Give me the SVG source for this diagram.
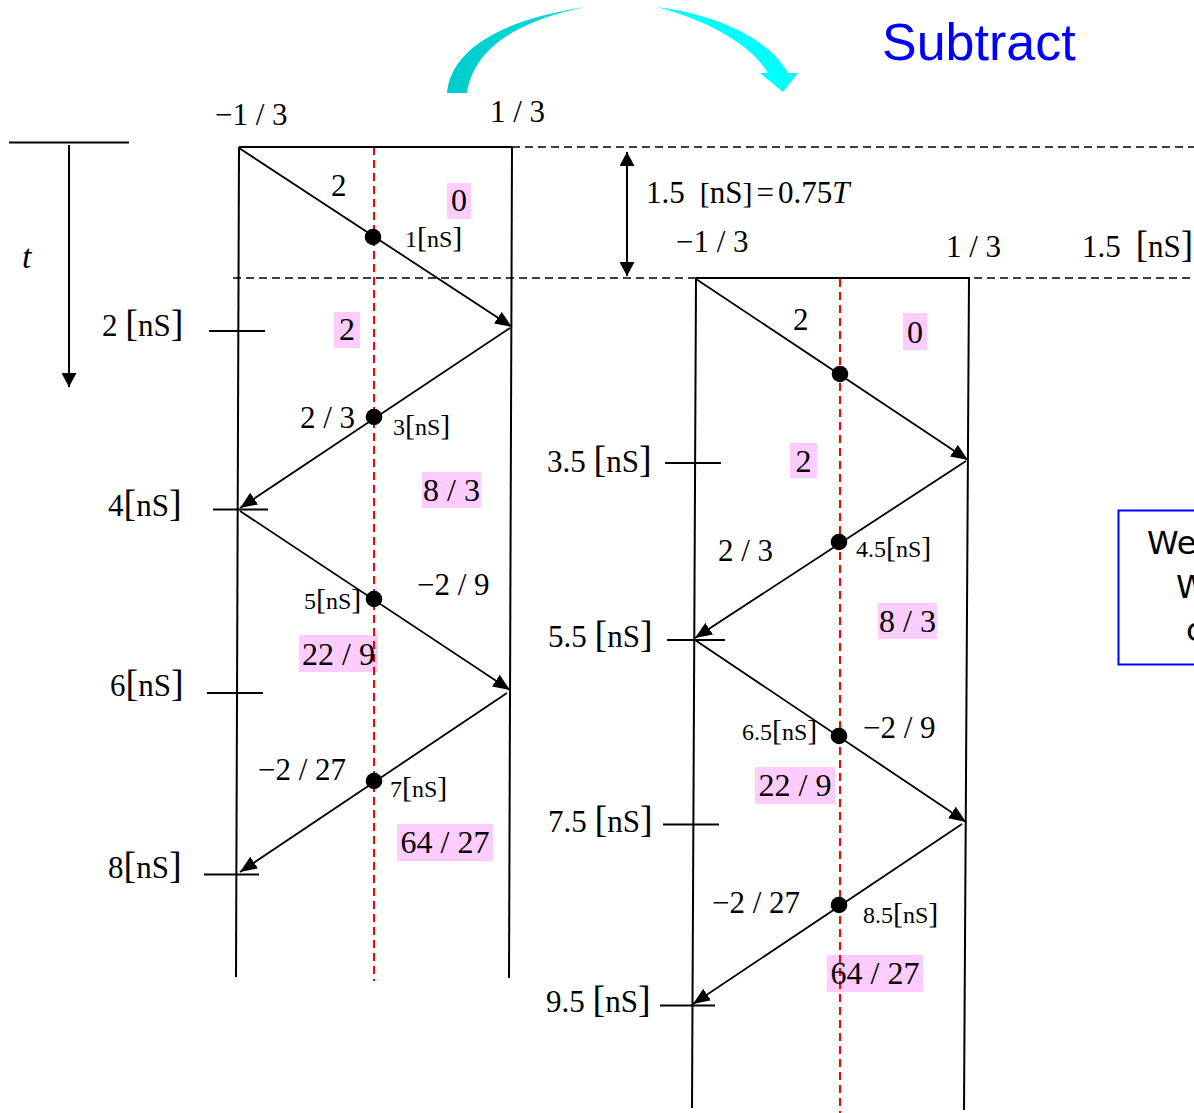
<svg xmlns="http://www.w3.org/2000/svg" width="1194" height="1113" viewBox="0 0 1194 1113">
<style>
  .ln{stroke:#000;stroke-width:2;fill:none}
  .zz{stroke:#000;stroke-width:1.8;fill:none;marker-end:url(#ah)}
  .dash{stroke:#000;stroke-width:1.6;stroke-dasharray:8 5;fill:none}
  .red{stroke:#FF0000;stroke-width:2;stroke-dasharray:8 5;fill:none}
  .pk{fill:#FFCCFF}
  .t{font-family:"Liberation Serif","Times New Roman",serif;fill:#000}
  .big{font-size:31px}
  .fr{font-size:31px}
  .pt{font-size:32px;text-anchor:middle}
  .sm{font-size:24px}
  .bb{font-size:38px}
  .sb{font-size:30px}
  .dot{fill:#000}
</style>
<defs>
  <marker id="ah" viewBox="0 0 17 14" markerWidth="17" markerHeight="14" refX="17" refY="7" orient="auto" markerUnits="userSpaceOnUse">
    <path d="M0,0 L17,7 L0,14 Z" fill="#000"/>
  </marker>
  <marker id="ah2" viewBox="0 0 14 15" markerWidth="14" markerHeight="15" refX="14" refY="7.5" orient="auto-start-reverse" markerUnits="userSpaceOnUse">
    <path d="M0,0 L14,7.5 L0,15 Z" fill="#000"/>
  </marker>
  <linearGradient id="cy" gradientUnits="userSpaceOnUse" x1="447" y1="0" x2="798" y2="0">
    <stop offset="0" stop-color="#00CCCC"/>
    <stop offset="0.4" stop-color="#00DDDD"/>
    <stop offset="0.6" stop-color="#00FFFF"/>
    <stop offset="1" stop-color="#00FFFF"/>
  </linearGradient>
</defs>
<rect width="1194" height="1113" fill="#fff"/>

<!-- pink value boxes -->
<g id="pink-boxes">
  <rect class="pk" x="447" y="183" width="24" height="36"/>
  <rect class="pk" x="334" y="312" width="26" height="36"/>
  <rect class="pk" x="422" y="472" width="59" height="36"/>
  <rect class="pk" x="299" y="635" width="79" height="37"/>
  <rect class="pk" x="397" y="824" width="96" height="37"/>
  <rect class="pk" x="903" y="313" width="24" height="37"/>
  <rect class="pk" x="790" y="443" width="27" height="35"/>
  <rect class="pk" x="878" y="603" width="59" height="36"/>
  <rect class="pk" x="755" y="767" width="80" height="37"/>
  <rect class="pk" x="827" y="955" width="96" height="37"/>
</g>

<!-- guide lines -->
<g id="guides">
  <line class="dash" x1="239" y1="147" x2="1194" y2="147"/>
  <line class="dash" x1="233" y1="278" x2="1194" y2="278"/>
  <line class="red" x1="374" y1="147" x2="374" y2="981"/>
  <line class="red" x1="840" y1="279" x2="840" y2="1113"/>
</g>

<!-- left line diagram -->
<g id="left-line">
  <line class="ln" x1="239" y1="147" x2="512" y2="147"/>
  <line class="ln" x1="239" y1="147" x2="236" y2="977"/>
  <line class="ln" x1="512" y1="147" x2="509" y2="978"/>
  <line class="ln" x1="209" y1="331" x2="265" y2="331"/>
  <line class="ln" x1="213" y1="509.5" x2="268" y2="509.5"/>
  <line class="ln" x1="207" y1="693" x2="263" y2="693"/>
  <line class="ln" x1="204" y1="874.5" x2="259" y2="874.5"/>
</g>

<!-- right line diagram -->
<g id="right-line">
  <line class="ln" x1="696" y1="278" x2="970" y2="278"/>
  <line class="ln" x1="696" y1="278" x2="692" y2="1108"/>
  <line class="ln" x1="969" y1="278" x2="964" y2="1110"/>
  <line class="ln" x1="665" y1="463" x2="721" y2="463"/>
  <line class="ln" x1="667" y1="640" x2="725" y2="640"/>
  <line class="ln" x1="663" y1="824.5" x2="719" y2="824.5"/>
  <line class="ln" x1="660" y1="1005.5" x2="715" y2="1005.5"/>
</g>

<!-- time axis -->
<g id="time-axis">
  <line class="ln" x1="9" y1="142.5" x2="129" y2="142.5"/>
  <line class="ln" x1="69" y1="145" x2="69" y2="387" marker-end="url(#ah2)"/>
  <text class="t" x="22" y="268" font-size="34" font-style="italic">t</text>
</g>

<!-- connectors -->
<g id="connectors">
  <line class="zz" x1="239" y1="148" x2="512" y2="327"/>
  <line class="zz" x1="510" y1="328" x2="240" y2="508"/>
  <line class="zz" x1="240" y1="511" x2="510" y2="690"/>
  <line class="zz" x1="507" y1="693" x2="240" y2="872"/>
  <line class="zz" x1="696" y1="279" x2="968" y2="460"/>
  <line class="zz" x1="966" y1="461" x2="695" y2="638"/>
  <line class="zz" x1="695" y1="640" x2="966" y2="822"/>
  <line class="zz" x1="962" y1="824" x2="693" y2="1004"/>
  <line class="ln" x1="627" y1="152" x2="627" y2="276" marker-start="url(#ah2)" marker-end="url(#ah2)"/>
  <path id="subtract-arrow-left" d="M447,93 C451,50 500,20 585,7 C522,20 474,46 467,93 Z" fill="url(#cy)"/>
  <path id="subtract-arrow-right" d="M657,7 C720,15 770,40 788,73 L798,73 L783,92 L760,73 L768,73 C752,46 712,22 657,7 Z" fill="url(#cy)"/>
</g>

<!-- crossing dots -->
<g id="dots">
  <circle class="dot" cx="373" cy="237" r="8.3"/>
  <circle class="dot" cx="374" cy="417" r="8.3"/>
  <circle class="dot" cx="374" cy="599" r="8.3"/>
  <circle class="dot" cx="374" cy="781" r="8.3"/>
  <circle class="dot" cx="840" cy="374" r="8.3"/>
  <circle class="dot" cx="839" cy="542" r="8.3"/>
  <circle class="dot" cx="839" cy="736" r="8.3"/>
  <circle class="dot" cx="839" cy="905" r="8.3"/>
</g>

<!-- left labels -->
<g id="left-labels" class="t">
  <text class="fr" x="215" y="125">−1 / 3</text>
  <text class="fr" x="490" y="122">1 / 3</text>
  <text class="fr" x="331" y="196">2</text>
  <text class="fr" x="300" y="428">2 / 3</text>
  <text class="fr" x="417" y="595">−2 / 9</text>
  <text class="fr" x="258" y="780">−2 / 27</text>
  <text class="pt" x="459" y="211">0</text>
  <text class="pt" x="347" y="340">2</text>
  <text class="pt" x="451.5" y="501">8 / 3</text>
  <text class="pt" x="338.5" y="665">22 / 9</text>
  <text class="pt" x="445" y="853">64 / 27</text>
  <text class="sm" x="405" y="247">1<tspan class="sb">[</tspan>nS<tspan class="sb">]</tspan></text>
  <text class="sm" x="393" y="435">3<tspan class="sb">[</tspan>nS<tspan class="sb">]</tspan></text>
  <text class="sm" x="304" y="609">5<tspan class="sb">[</tspan>nS<tspan class="sb">]</tspan></text>
  <text class="sm" x="390" y="797">7<tspan class="sb">[</tspan>nS<tspan class="sb">]</tspan></text>
  <text class="big" x="102" y="336">2 <tspan class="bb">[</tspan>nS<tspan class="bb">]</tspan></text>
  <text class="big" x="108" y="516">4<tspan class="bb">[</tspan>nS<tspan class="bb">]</tspan></text>
  <text class="big" x="110" y="696">6<tspan class="bb">[</tspan>nS<tspan class="bb">]</tspan></text>
  <text class="big" x="108" y="878">8<tspan class="bb">[</tspan>nS<tspan class="bb">]</tspan></text>
</g>

<!-- right labels -->
<g id="right-labels" class="t">
  <text class="fr" x="646" y="203">1.5<tspan dx="15" class="sb" font-size="37">[</tspan>nS<tspan class="sb" font-size="37">]</tspan><tspan dx="4">=</tspan><tspan dx="4">0.75</tspan><tspan font-style="italic">T</tspan></text>
  <text class="fr" x="676" y="252">−1 / 3</text>
  <text class="fr" x="946" y="257">1 / 3</text>
  <text class="fr" x="1082" y="257">1.5<tspan dx="15" font-size="37">[</tspan>nS<tspan font-size="37">]</tspan></text>
  <text class="fr" x="793" y="330">2</text>
  <text class="fr" x="718" y="561">2 / 3</text>
  <text class="fr" x="863" y="738">−2 / 9</text>
  <text class="fr" x="712" y="913">−2 / 27</text>
  <text class="pt" x="915" y="343">0</text>
  <text class="pt" x="803.5" y="472">2</text>
  <text class="pt" x="907.5" y="632">8 / 3</text>
  <text class="pt" x="795" y="796">22 / 9</text>
  <text class="pt" x="875" y="984">64 / 27</text>
  <text class="sm" x="856" y="557">4.5<tspan class="sb">[</tspan>nS<tspan class="sb">]</tspan></text>
  <text class="sm" x="742" y="740">6.5<tspan class="sb">[</tspan>nS<tspan class="sb">]</tspan></text>
  <text class="sm" x="863" y="923">8.5<tspan class="sb">[</tspan>nS<tspan class="sb">]</tspan></text>
  <text class="big" x="547" y="472">3.5 <tspan class="bb">[</tspan>nS<tspan class="bb">]</tspan></text>
  <text class="big" x="548" y="647">5.5 <tspan class="bb">[</tspan>nS<tspan class="bb">]</tspan></text>
  <text class="big" x="548" y="832">7.5 <tspan class="bb">[</tspan>nS<tspan class="bb">]</tspan></text>
  <text class="big" x="546" y="1012">9.5 <tspan class="bb">[</tspan>nS<tspan class="bb">]</tspan></text>
</g>

<!-- subtract title -->
<g id="subtract-title">
  <text x="882" y="60" font-family="'Liberation Sans', Arial, sans-serif" font-size="52" fill="#0000FF">Subtract</text>
</g>

<!-- clipped note box (cut by the right edge, as in the reference) -->
<g id="note-box">
  <rect x="1118.5" y="510.5" width="100" height="154" fill="#fff" stroke="#0000FF" stroke-width="2"/>
  <g font-family="'DejaVu Sans', Verdana, sans-serif" font-size="32" fill="#000">
    <text x="1147" y="554">We</text>
    <text x="1176" y="598">W</text>
    <text x="1186" y="641">c</text>
  </g>
</g>
</svg>
